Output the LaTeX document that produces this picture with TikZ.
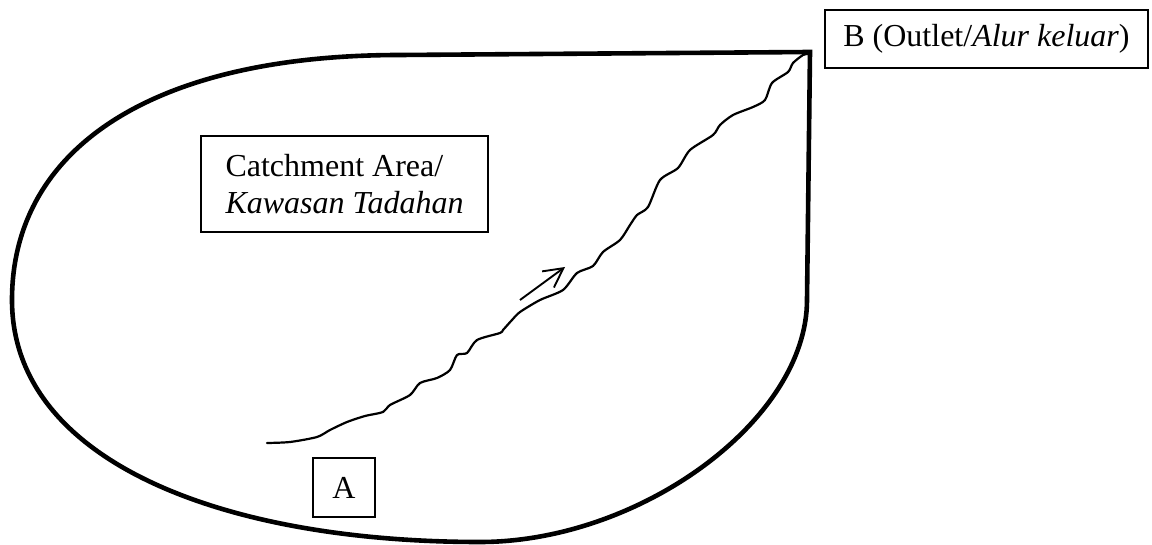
\documentclass[tikz,border=0pt]{standalone}
\usepackage{fontspec}
\setmainfont{Liberation Serif}
\usetikzlibrary{arrows.meta}
\begin{document}
\begin{tikzpicture}[x=1pt,y=-1pt,
  labelbox/.style={draw,line width=1.6pt,inner sep=0pt,font=\fontsize{32}{37}\selectfont},
  outline/.style={line width=4.6pt,line join=miter},
  stream/.style={line width=2.2pt,line join=round,line cap=round},
  flow/.style={line width=1.9pt,-{Straight Barb[length=19pt,width=20pt,line width=1.9pt]}}]
\useasboundingbox (0,0) rectangle (1152,545);
% catchment outline
\draw[outline] (810,52) -- (400,55)
  .. controls (150,55) and (12,150) .. (12,300)
  .. controls (12,460) and (220,542) .. (480,542)
  .. controls (640,542) and (807,420) .. (807,300) -- cycle;
% stream
\coordinate (sA) at (267,443);
\coordinate (sB) at (808,54);
\draw[stream] plot[smooth,tension=0.45] coordinates {
  (267,443) (290,442) (317,437) (330,430) (347,422) (365,416) (383,412)
  (390,405) (410,395) (420,383) (437,378) (450,370) (457,355) (467,353)
  (477,340) (500,333) (503,330) (512,320) (520,312) (540,300) (563,290)
  (577,273) (593,266) (603,252) (620,240) (630,225) (637,215) (648,207)
  (660,180) (678,168) (690,150) (713,135) (720,125) (733,115) (753,107)
  (765,100) (772,83) (788,72) (793,63) (803,55) (808,54)};
% flow arrow
\coordinate (f1) at (520,300);
\coordinate (f2) at (565,267);
\draw[flow] (f1) -- (f2);
% labels
\node[labelbox,minimum width=287pt,minimum height=96pt,align=left] (catch) at (344.5,184)
  {Catchment Area/\\\textit{Kawasan Tadahan}};
\node[labelbox,minimum width=323pt,minimum height=58pt] (outlet) at (986.5,39)
  {B (Outlet/\textit{Alur keluar})};
\node[labelbox,minimum width=62pt,minimum height=59pt] (a) at (344,487.5) {A};
\end{tikzpicture}
\end{document}
